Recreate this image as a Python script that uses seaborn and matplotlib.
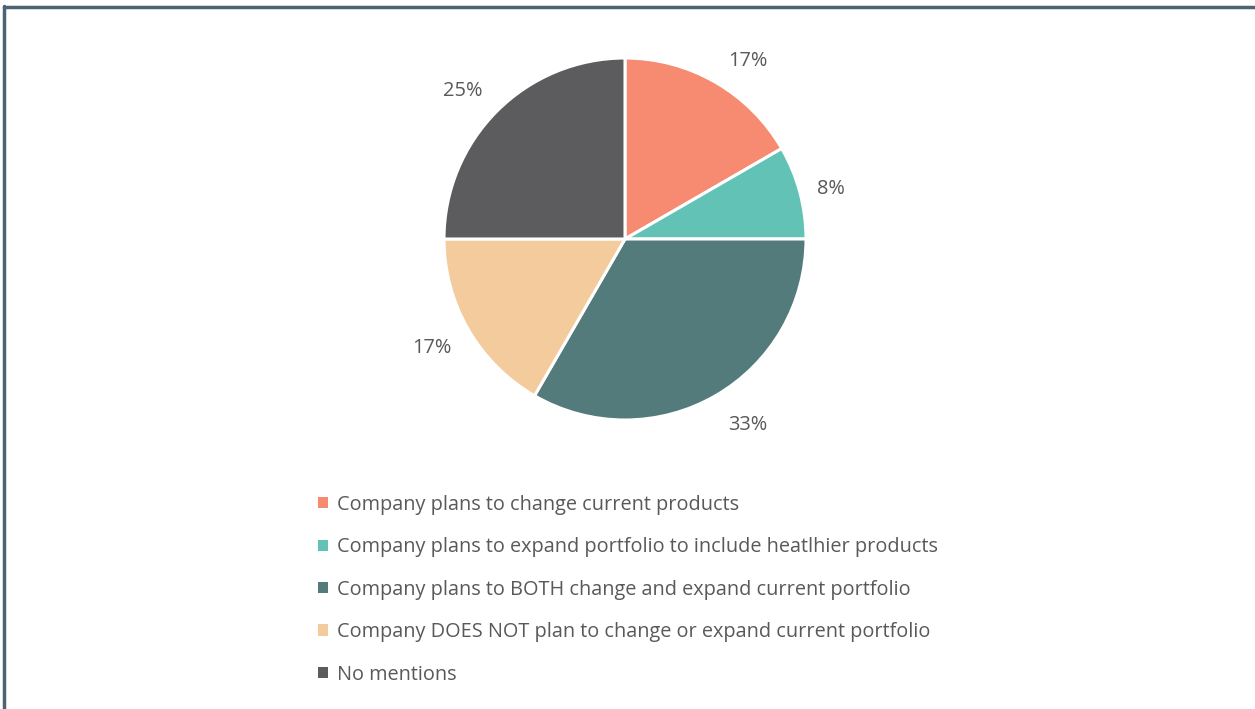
import matplotlib
matplotlib.use('Agg')
import matplotlib.pyplot as plt
import seaborn as sns
from matplotlib.patches import Patch
from matplotlib.lines import Line2D

categories = [
    'Company plans to change current products',
    'Company plans to expand portfolio to include heatlhier products',
    'Company plans to BOTH change and expand current portfolio',
    'Company DOES NOT plan to change or expand current portfolio',
    'No mentions',
]
counts = [2, 1, 4, 2, 3]
colors = ['#F68B72', '#63C2B6', '#537B7B', '#F3CB9D', '#5C5C5E']

sns.set_theme(style='white')
plt.rcParams['font.family'] = ['Open Sans', 'DejaVu Sans']
text_color = '#595959'

fig = plt.figure(figsize=(12.55, 7.09), dpi=100)
W, H = 1255, 709
cx, cy, r = 625, 239, 181
ax = fig.add_axes([(cx - r) / W, (H - cy - r) / H, 2 * r / W, 2 * r / H])

wedges, texts, autotexts = ax.pie(
    counts, colors=colors, startangle=90, counterclock=False,
    autopct='%1.0f%%', pctdistance=1.2, radius=1,
    wedgeprops=dict(edgecolor='white', linewidth=2.2),
    textprops=dict(color=text_color, fontsize=14.4),
)
# nudge labels a bit like the original's best-fit placement
nudges = [(0.08, -0.055), (-0.02, -0.035), (0.08, 0.01), (-0.03, 0.0), (-0.05, -0.03)]
for t, (dx, dy) in zip(autotexts, nudges):
    x, y = t.get_position()
    t.set_position((x + dx, y + dy))
ax.set_xlim(-1, 1)
ax.set_ylim(-1, 1)
ax.set_aspect('equal')
ax.axis('off')

handles = [Patch(facecolor=c, edgecolor='none') for c in colors]
fig.legend(handles, categories, loc='upper left',
           bbox_to_anchor=(300 / W, 1 - 477 / H), frameon=False,
           handlelength=0.5, handleheight=0.5, handletextpad=0.45,
           labelspacing=1.13, fontsize=14.3, labelcolor=text_color)

# frame lines at top and left
fig.add_artist(Line2D([4 / W, 4 / W], [0, 1 - 6 / H], color='#4B6373', lw=2.5))
fig.add_artist(Line2D([4 / W, 1], [1 - 7 / H, 1 - 7 / H], color='#4B6373', lw=2.5))

fig.savefig('out.png', dpi=100, facecolor='white')
